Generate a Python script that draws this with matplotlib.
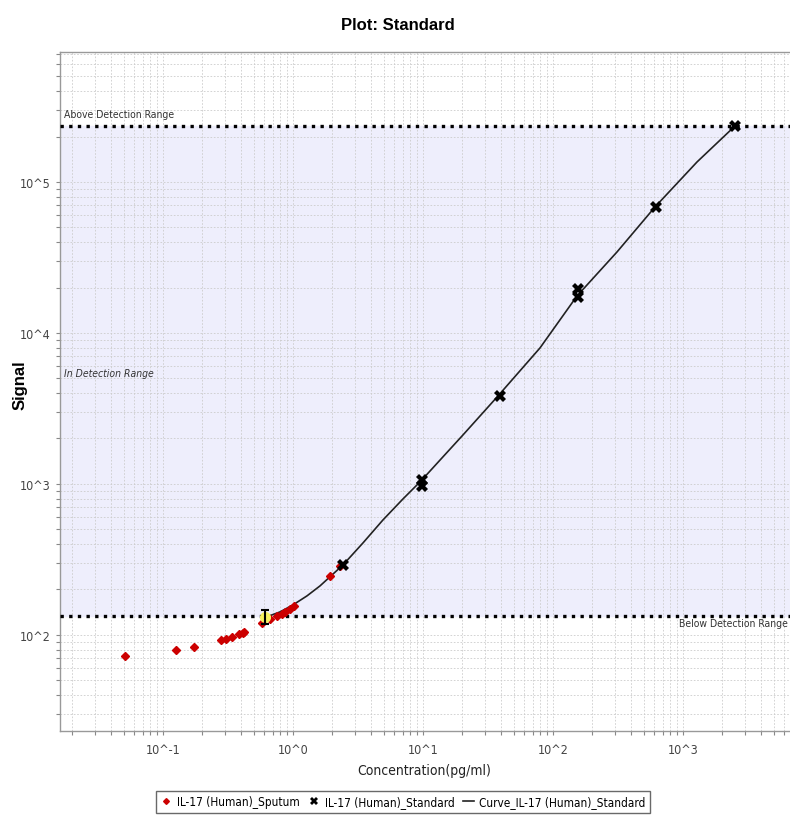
import matplotlib
matplotlib.use("Agg")
import matplotlib.pyplot as plt
from matplotlib import font_manager
from matplotlib.ticker import LogLocator, NullFormatter

# pick a narrow font if present
_names = {(f.name, f.stretch) for f in font_manager.fontManager.ttflist}
_fams = {n for n, s in _names}
if 'Liberation Sans Narrow' in _fams:
    NARROW = dict(family=['Liberation Sans Narrow', 'DejaVu Sans'])
elif any(n == 'DejaVu Sans' and str(s) in ('condensed', '500', 'semi-condensed') for n, s in _names):
    NARROW = dict(family=['DejaVu Sans'], stretch='condensed')
else:
    NARROW = dict(family=['Liberation Sans', 'DejaVu Sans'])
plt.rcParams['font.family'] = NARROW['family']
if 'stretch' in NARROW:
    plt.rcParams['font.stretch'] = NARROW['stretch']

# ---- data ----
std_conc = [2500, 625, 156.25, 156.25, 39.06, 9.77, 9.77, 2.44]
std_signal = [235000, 68000, 19500, 17300, 3830, 1060, 970, 291]

low_std_conc = [0.61]
low_std_signal = [131]
low_std_err_low = [13]
low_std_err_high = [15]

sputum_conc = [0.051, 0.126, 0.173, 0.279, 0.305, 0.34, 0.385, 0.41, 0.42,
               0.578, 0.665, 0.753, 0.823, 0.87, 0.95, 1.02, 1.93, 2.3]
sputum_signal = [72.6, 79.4, 83.3, 92.7, 94, 97, 101.6, 103, 105,
                 120, 128, 134, 138, 142, 149, 156, 246, 285]

curve_conc = [0.598, 0.794, 1.0, 1.281, 1.613, 2.425, 3.455, 4.924, 7.017, 9.652,
              14.0, 20.31, 37.76, 79.43, 153.0, 310.7, 609.0, 1282, 2512]
curve_signal = [129.6, 142.0, 158.0, 181.3, 211.1, 290.8, 406.7, 577.7, 795.6, 1047,
                1487, 2111, 3826, 7957, 17580, 34390, 68300, 135700, 234900]

upper_limit = 235000
lower_limit = 133

x_ticks = [0.1, 1, 10, 100, 1000]
x_tick_labels = ["10^-1", "10^0", "10^1", "10^2", "10^3"]
y_ticks = [100, 1000, 10000, 100000]
y_tick_labels = ["10^2", "10^3", "10^4", "10^5"]

# ---- figure ----
fig = plt.figure(figsize=(7.9, 8.2), dpi=100)
ax = fig.add_axes([60/790, 1-732/820, (800-60)/790, (732-53)/820])
ax.set_xscale('log')
ax.set_yscale('log')
ax.set_xlim(0.01614, 10**((800-293)/130))
ax.set_ylim(23.1, 7.26e5)

ax.axhspan(lower_limit, upper_limit, color='#EEEEFC', zorder=0)

ax.set_xticks(x_ticks)
ax.set_xticklabels(x_tick_labels, fontsize=9, color='#444444')
ax.set_yticks(y_ticks)
ax.set_yticklabels(y_tick_labels, fontsize=9, color='#444444')
ax.xaxis.set_minor_locator(LogLocator(base=10, subs=range(2, 10), numticks=20))
ax.yaxis.set_minor_locator(LogLocator(base=10, subs=range(2, 10), numticks=20))
ax.xaxis.set_minor_formatter(NullFormatter())
ax.yaxis.set_minor_formatter(NullFormatter())
ax.tick_params(which='both', direction='out', length=3, color='#888888', width=0.8, pad=4)
ax.tick_params(axis='x', pad=6)
ax.grid(True, which='both', linestyle=(0, (2, 2)), color='#CCCCCC', linewidth=0.6)
ax.set_axisbelow(True)

for s in ['top', 'left', 'bottom']:
    ax.spines[s].set_color('#999999')
    ax.spines[s].set_linewidth(1.0)
ax.spines['right'].set_visible(False)

ax.axhline(upper_limit, color='black', linestyle=(0, (1, 1.6)), linewidth=2.4, zorder=3)
ax.axhline(lower_limit, color='black', linestyle=(0, (1, 1.6)), linewidth=2.4, zorder=3)

ax.plot(curve_conc, curve_signal, color='#222222', linewidth=1.2, zorder=4,
        solid_joinstyle='round', label='Curve_IL-17 (Human)_Standard')
ax.plot(sputum_conc, sputum_signal, linestyle='none', marker='D', markersize=4.2,
        color='#CC0000', zorder=5, label='IL-17 (Human)_Sputum')
ax.plot(std_conc, std_signal, linestyle='none', marker='X', markersize=8,
        color='black', markeredgewidth=0, zorder=6, label='IL-17 (Human)_Standard')
ax.plot(low_std_conc, low_std_signal, linestyle='none', marker='o', markersize=7,
        color='#F5F060', zorder=6.5)
ax.errorbar(low_std_conc, low_std_signal, yerr=[low_std_err_low, low_std_err_high],
            fmt='none', ecolor='black', elinewidth=1.5, capsize=3, capthick=1.5, zorder=7)

ax.text(10**((64-293)/130), upper_limit * 1.12, 'Above Detection Range', fontsize=7.5,
        color='#333333', va='bottom', ha='left')
ax.text(10**((64-293)/130), 10**(4 - (373 - 333) / 151), 'In Detection Range', fontsize=7.5,
        color='#333333', style='italic', va='center', ha='left')
ax.text(10**((788-293)/130), lower_limit * 0.97, 'Below Detection Range', fontsize=7.5,
        color='#333333', va='top', ha='right', clip_on=False)

fig.text(398/790, 1-25/820, 'Plot: Standard', fontsize=12, fontweight='bold',
         family=['Liberation Sans', 'DejaVu Sans'], stretch='normal', ha='center', va='center')
fig.text(20/790, 1-385/820, 'Signal', fontsize=12, fontweight='bold', rotation=90,
         family=['Liberation Sans', 'DejaVu Sans'], stretch='normal', ha='center', va='center')
fig.text(424/790, 1-771/820, 'Concentration(pg/ml)', fontsize=10,
         color='#222222', ha='center', va='center')

h, l = ax.get_legend_handles_labels()
order = [1, 2, 0]
leg = fig.legend([h[i] for i in order], [l[i] for i in order], loc='center',
                 bbox_to_anchor=(403/790, 1-803/820), ncol=3, frameon=True,
                 fancybox=False, edgecolor='#444444', fontsize=8.5,
                 handlelength=1.0, handletextpad=0.4, columnspacing=0.7,
                 borderpad=0.4, markerscale=0.7)
leg.get_frame().set_linewidth(1.0)

fig.savefig('out.png', dpi=100)
